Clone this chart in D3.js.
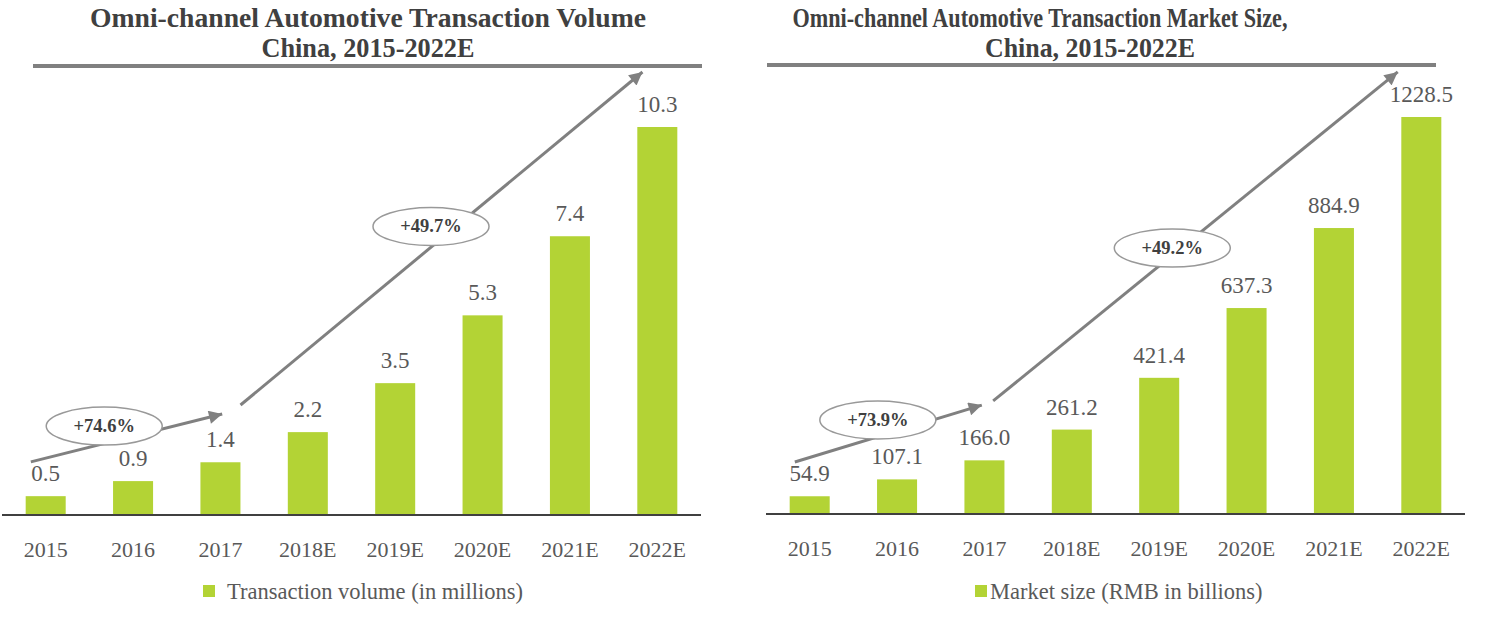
<!DOCTYPE html>
<html><head><meta charset="utf-8">
<script src="https://cdn.jsdelivr.net/npm/d3@7"></script>
<style>html,body{margin:0;padding:0;background:#fff;}svg{display:block;}</style>
</head><body>
<svg id="c" width="1500" height="628"></svg>
<script>
const categories = ["2015","2016","2017","2018E","2019E","2020E","2021E","2022E"];
const volumeValues = [0.5,0.9,1.4,2.2,3.5,5.3,7.4,10.3];
const marketValues = [54.9,107.1,166.0,261.2,421.4,637.3,884.9,1228.5];
const volumeLabels = ["0.5","0.9","1.4","2.2","3.5","5.3","7.4","10.3"];
const marketLabels = ["54.9","107.1","166.0","261.2","421.4","637.3","884.9","1228.5"];
const volumeTitle = ["Omni-channel Automotive Transaction Volume","China, 2015-2022E"];
const marketTitle = ["Omni-channel Automotive Transaction Market Size,","China, 2015-2022E"];
const volumeLegend = "Transaction volume (in millions)";
const marketLegend = "Market size (RMB in billions)";
// growth annotations: arrows in (category index, value) units
const volumeGrowth = [
  {label:"+74.6%", from:[-0.17,1.41], to:[2.02,2.68], at:[0.67,2.36]},
  {label:"+49.7%", from:[2.23,2.92], to:[6.83,11.76], at:[4.41,7.66]}
];
const marketGrowth = [
  {label:"+73.9%", from:[-0.17,161], to:[1.97,337], at:[0.78,291]},
  {label:"+49.2%", from:[2.10,350], to:[6.73,1368], at:[4.15,823]}
];

const svg = d3.select("#c");
const BAR = "#b3d335", TXT = "#595959", GREY = "#808080";
const serif = "'Liberation Serif','Times New Roman',serif";

svg.append("defs").append("marker")
  .attr("id","ah").attr("viewBox","0 0 10 10").attr("refX",10).attr("refY",5)
  .attr("markerWidth",5).attr("markerHeight",4.4).attr("markerUnits","strokeWidth")
  .attr("orient","auto")
  .append("path").attr("d","M0,0L10,5L0,10z").attr("fill",GREY);

function chart(o){
  const g = svg.append("g");
  const x = d3.scaleBand().domain(categories).range([o.x0,o.x1]).paddingInner(0.542).paddingOuter(0.271);
  const y = d3.scaleLinear().domain([0,d3.max(o.values)]).range([o.base,o.top]);
  const step = x.step();
  const xi = i => x(categories[0]) + x.bandwidth()/2 + i*step;

  // title
  o.title.forEach((t,k)=>{
    g.append("text").attr("x",o.titleX[k]).attr("y",o.titleY[k]).attr("text-anchor","middle")
      .attr("font-family",serif).attr("font-weight","bold").attr("font-size",28)
      .attr("textLength",o.titleW[k]).attr("lengthAdjust","spacingAndGlyphs")
      .attr("fill","#404040").text(t);
  });
  g.append("line").attr("x1",o.ruleX0).attr("x2",o.ruleX1).attr("y1",o.ruleY).attr("y2",o.ruleY)
    .attr("stroke",GREY).attr("stroke-width",4);

  // bars
  g.selectAll("rect.bar").data(o.values).join("rect").attr("class","bar")
    .attr("x",(d,i)=>x(categories[i])).attr("width",x.bandwidth())
    .attr("y",d=>y(d)).attr("height",d=>o.base-y(d)).attr("fill",BAR);
  g.selectAll("text.val").data(o.values).join("text").attr("class","val")
    .attr("x",(d,i)=>x(categories[i])+x.bandwidth()/2).attr("y",d=>y(d)-15)
    .attr("text-anchor","middle").attr("font-family",serif).attr("font-size",23)
    .attr("fill",TXT).text((d,i)=>o.labels[i]);

  // axis
  const ax = g.append("g").attr("transform",`translate(0,${o.base})`)
    .call(d3.axisBottom(x).tickSize(0).tickPadding(26));
  ax.select(".domain").attr("stroke","#404040").attr("stroke-width",2).attr("d",`M${o.x0},0H${o.x1}`);
  ax.selectAll("text").attr("font-family",serif).attr("font-size",22).attr("fill",TXT);

  // growth annotations
  o.growth.forEach(a=>{
    g.append("line").attr("x1",xi(a.from[0])).attr("y1",y(a.from[1]))
      .attr("x2",xi(a.to[0])).attr("y2",y(a.to[1]))
      .attr("stroke",GREY).attr("stroke-width",3).attr("marker-end","url(#ah)");
  });
  o.growth.forEach(a=>{
    g.append("ellipse").attr("cx",xi(a.at[0])).attr("cy",y(a.at[1])).attr("rx",58).attr("ry",19)
      .attr("fill","#fff").attr("stroke","#999").attr("stroke-width",1.5);
    g.append("text").attr("x",xi(a.at[0])).attr("y",y(a.at[1])+6).attr("text-anchor","middle")
      .attr("font-family",serif).attr("font-weight","bold").attr("font-size",18.5)
      .attr("fill","#404040").text(a.label);
  });

  // legend
  g.append("rect").attr("x",o.legX).attr("y",585).attr("width",12).attr("height",12).attr("fill",BAR);
  g.append("text").attr("x",o.legX+o.legGap).attr("y",599).attr("font-family",serif).attr("font-size",22.5)
    .attr("fill",TXT).text(o.legend);
}

chart({x0:2,x1:701,base:515,top:127,values:volumeValues,labels:volumeLabels,growth:volumeGrowth,
  title:volumeTitle,titleX:[368,368],titleY:[27,57],titleW:[556,213],ruleX0:33,ruleX1:702,ruleY:66,
  legX:203,legGap:24,legend:volumeLegend});
chart({x0:766,x1:1465,base:514,top:117,values:marketValues,labels:marketLabels,growth:marketGrowth,
  title:marketTitle,titleX:[1040,1090],titleY:[27,57],titleW:[495,210],ruleX0:767,ruleX1:1436,ruleY:65,
  legX:975,legGap:15,legend:marketLegend});
</script>
</body></html>
